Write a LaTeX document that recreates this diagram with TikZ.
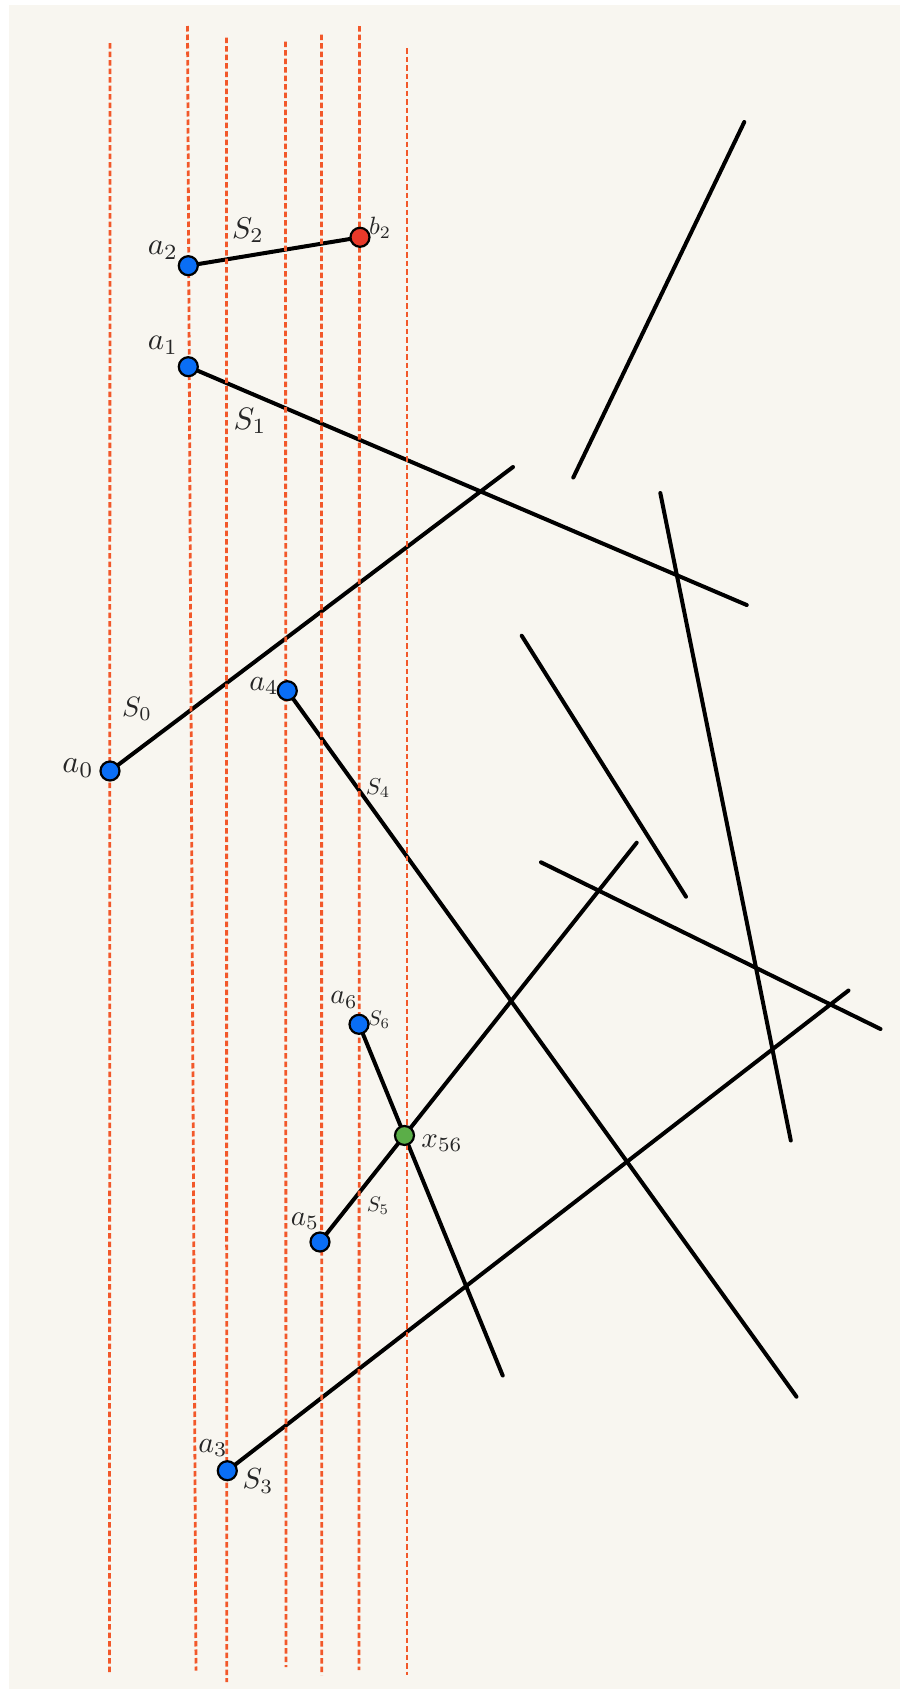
\documentclass[tikz,border=0pt]{standalone}
\definecolor{paper}{RGB}{248,246,240}
\definecolor{guidec}{RGB}{242,88,42}
\definecolor{ptblue}{RGB}{10,110,245}
\definecolor{ptred}{RGB}{232,57,42}
\definecolor{ptgreen}{RGB}{91,174,72}
\pgfdeclarelayer{paperlayer}
\pgfdeclarelayer{seglayer}
\pgfdeclarelayer{guidelayer}
\pgfsetlayers{paperlayer,seglayer,guidelayer,main}
\begin{document}
\begin{tikzpicture}[x=1pt,y=-1pt,
  seg/.style={line width=4pt,line cap=round,black},
  guide/.style={line width=2.8pt,guidec,dash pattern=on 5.5pt off 3pt},
  ptnode/.style={circle,draw=black,line width=2.2pt,minimum size=19pt,inner sep=0pt},
  bluept/.style={ptnode,fill=ptblue},
  redpt/.style={ptnode,fill=ptred},
  greenpt/.style={ptnode,fill=ptgreen},
  lab/.style={scale=#1/10,inner sep=0pt,text=black!85}]
\useasboundingbox (0,0) rectangle (906,1689);
\begin{pgfonlayer}{paperlayer}
  \fill[white] (0,0) rectangle (906,1689);
  \fill[paper] (9,5) rectangle (900,1689);
\end{pgfonlayer}
% points
\coordinate (a0) at (110,771);
\coordinate (a1) at (188.3,366.7);
\coordinate (a2) at (188.3,265.7);
\coordinate (b2) at (360,237.3);
\coordinate (a3) at (227.3,1470.7);
\coordinate (a4) at (287.3,690.7);
\coordinate (a5) at (320,1242);
\coordinate (a6) at (359,1024.3);
% segment ends
\coordinate (e0) at (513,467);
\coordinate (e1) at (746.7,605);
\coordinate (e3) at (848.5,990.5);
\coordinate (e4) at (796.5,1396.7);
\coordinate (e5) at (636.7,842.7);
\coordinate (e6) at (502.7,1375.5);
\coordinate (x56) at (intersection of a5--e5 and a6--e6);
% other segments
\coordinate (p1) at (744.3,122);
\coordinate (q1) at (573.3,477.5);
\coordinate (p2) at (660.3,493);
\coordinate (q2) at (790.8,1140.5);
\coordinate (p3) at (521.7,635.7);
\coordinate (q3) at (686,896.7);
\coordinate (p4) at (541,862.3);
\coordinate (q4) at (880.5,1029);
% guide lines
\coordinate (t1) at (110,43);   \coordinate (u1) at (109.5,1672);
\coordinate (t2) at (187.5,26); \coordinate (u2) at (196,1670.5);
\coordinate (t3) at (226.5,37.5); \coordinate (u3) at (226.7,1682);
\coordinate (t4) at (285.5,41.5); \coordinate (u4) at (286,1667);
\coordinate (t5) at (321.5,34.5); \coordinate (u5) at (321.7,1675);
\coordinate (t6) at (359.5,26); \coordinate (u6) at (359,1670);
\coordinate (t7) at (407,48);   \coordinate (u7) at (407,1675);

\begin{pgfonlayer}{seglayer}
  \draw[seg] (a0) -- (e0);
  \draw[seg] (a1) -- (e1);
  \draw[seg] (a2) -- (b2);
  \draw[seg] (a3) -- (e3);
  \draw[seg] (a4) -- (e4);
  \draw[seg] (a5) -- (e5);
  \draw[seg] (a6) -- (e6);
  \draw[seg] (p1) -- (q1);
  \draw[seg] (p2) -- (q2);
  \draw[seg] (p3) -- (q3);
  \draw[seg] (p4) -- (q4);
\end{pgfonlayer}
\begin{pgfonlayer}{guidelayer}
  \foreach \i in {1,...,7} {\draw[guide] (t\i) -- (u\i);}
\end{pgfonlayer}

% point nodes
\node[bluept] (n0) at (a0) {};
\node[bluept] (n1) at (a1) {};
\node[bluept] (n2) at (a2) {};
\node[redpt]  (m2) at (b2) {};
\node[bluept] (n3) at (a3) {};
\node[bluept] (n4) at (a4) {};
\node[bluept] (n5) at (a5) {};
\node[bluept] (n6) at (a6) {};
\node[greenpt] (nx) at (x56) {};

% labels
\node[lab=32] (la0) at (78,768) {$a_0$};
\node[lab=31] (la1) at (163,345) {$a_1$};
\node[lab=31] (la2) at (163,250) {$a_2$};
\node[lab=25] (lb2) at (380,228) {$b_2$};
\node[lab=30] (la3) at (213,1448) {$a_3$};
\node[lab=30] (la4) at (264,686) {$a_4$};
\node[lab=29] (la5) at (305,1221) {$a_5$};
\node[lab=28] (la6) at (344,1000) {$a_6$};
\node[lab=29] (lx) at (442,1143) {$x_{56}$};
\node[lab=28] (ls0) at (137,709) {$S_0$};
\node[lab=31] (ls1) at (250,421) {$S_1$};
\node[lab=30] (ls2) at (248,230) {$S_2$};
\node[lab=29] (ls3) at (258,1481) {$S_3$};
\node[lab=23] (ls4) at (378,788) {$S_4$};
\node[lab=21] (ls5) at (378,1206) {$S_5$};
\node[lab=21] (ls6) at (379,1020) {$S_6$};
\end{tikzpicture}
\end{document}
